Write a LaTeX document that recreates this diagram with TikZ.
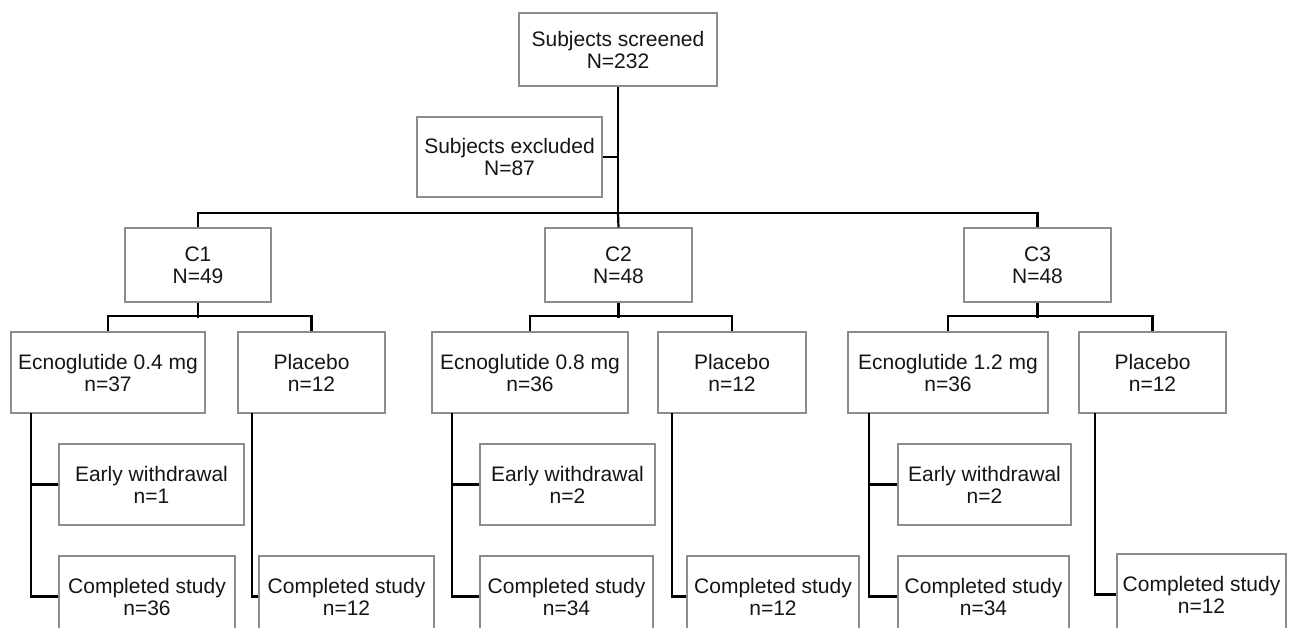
\documentclass[tikz,border=0pt]{standalone}
\usepackage{fontspec}
\setmainfont{Liberation Sans}
\definecolor{boxgray}{HTML}{8C8C8C}
\definecolor{ink}{HTML}{151515}
\newcommand\bx[6]{\node[box, minimum width={(#4-#2)*1pt}, minimum height={(#5-#3)*1pt}] (#1) at ({(#2+#4)/2},{(#3+#5)/2}) {#6};}
\begin{document}
\begin{tikzpicture}[x=1pt,y=-1pt,
  box/.style={draw=boxgray, line width=1.3pt, inner sep=0pt, align=center, text=ink, font=\fontsize{21}{22}\selectfont},
  link/.style={draw=black, line width=2.2pt}]
\useasboundingbox (0,0) rectangle (1290,628);
\clip (0,0) rectangle (1290,628);
% top
\bx{top}{519}{13}{717}{86}{Subjects screened\\N=232}
\bx{excl}{417}{117}{602}{197}{Subjects excluded\\N=87}
% cohorts
\bx{c1}{125}{228}{271}{302}{C1\\N=49}
\bx{c2}{545}{228}{692}{302}{C2\\N=48}
\bx{c3}{964}{228}{1111}{302}{C3\\N=48}
% arms
\bx{e1}{11}{332}{205}{413}{Ecnoglutide 0.4 mg\\n=37}
\bx{p1}{238}{332}{385}{413}{Placebo\\n=12}
\bx{e2}{432}{332}{628}{413}{Ecnoglutide 0.8 mg\\n=36}
\bx{p2}{658}{332}{806}{413}{Placebo\\n=12}
\bx{e3}{848}{332}{1048}{413}{Ecnoglutide 1.2 mg\\n=36}
\bx{p3}{1079}{332}{1226}{413}{Placebo\\n=12}
% outcomes
\bx{w1}{59}{444}{244}{525}{Early withdrawal\\n=1}
\bx{s1}{59}{556}{235}{637}{Completed study\\n=36}
\bx{ps1}{259}{556}{434}{637}{Completed study\\n=12}
\bx{w2}{480}{444}{655}{525}{Early withdrawal\\n=2}
\bx{s2}{480}{556}{653}{637}{Completed study\\n=34}
\bx{ps2}{687}{556}{859}{637}{Completed study\\n=12}
\bx{w3}{898}{444}{1071}{525}{Early withdrawal\\n=2}
\bx{s3}{898}{556}{1069}{637}{Completed study\\n=34}
\bx{ps3}{1117}{554}{1286}{635}{Completed study\\n=12}
% connectors
\coordinate (h0) at (618,213);
\draw[link] (top.south) -- (h0);
\draw[link] (excl.east) -- (excl.east -| top.south);
\draw[link] (c1.north) |- (h0) -| (c3.north);
\draw[link] (h0) -- (c2.north);
\foreach \c/\e/\p in {c1/e1/p1,c2/e2/p2,c3/e3/p3}{
  \draw[link] (\c.south) -- ++(0,15);
  \draw[link] (\e.north) -- ++(0,-15) -| (\p.north);
}
\coordinate (v1) at (31,413);
\coordinate (v2) at (452,413);
\coordinate (v3) at (869,413);
\coordinate (q1) at (252,413);
\coordinate (q2) at (672,413);
\coordinate (q3) at (1095,413);
\foreach \i in {1,2,3}{
  \draw[link] (v\i) |- (s\i.west);
  \draw[link] (v\i |- w\i.west) -- (w\i.west);
  \draw[link] (q\i) |- (ps\i.west);
}
\end{tikzpicture}
\end{document}
